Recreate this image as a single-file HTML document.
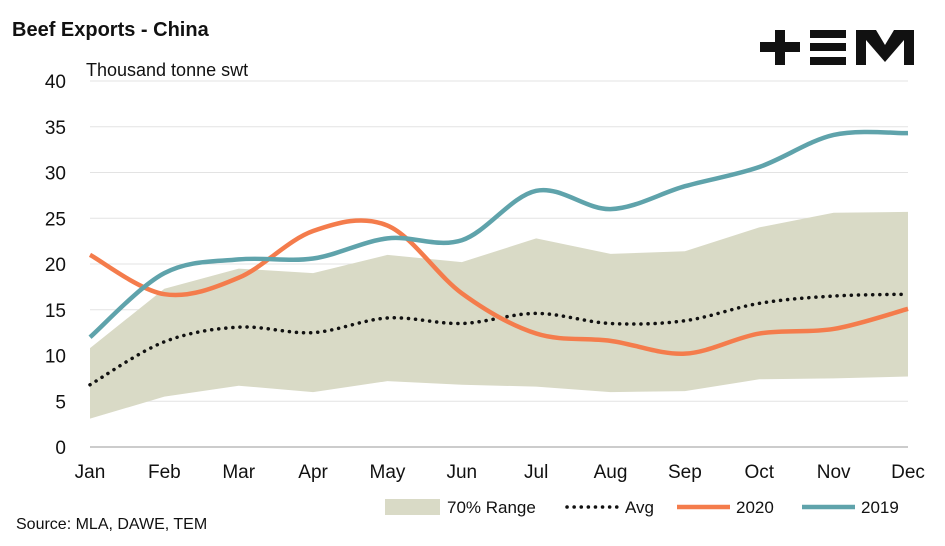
<!DOCTYPE html>
<html><head><meta charset="utf-8"><style>
body{margin:0;background:#fff;font-family:"Liberation Sans",sans-serif;}
svg text{font-family:"Liberation Sans",sans-serif;}
</style></head><body>
<svg id="c" width="945" height="541" viewBox="0 0 945 541">
<text x="12" y="36" font-size="20" font-weight="bold" fill="#111">Beef Exports - China</text>
<text x="86" y="76" font-size="18" fill="#111">Thousand tonne swt</text>
<g fill="#111">
<rect x="760" y="42" width="40" height="10"/><rect x="775" y="30" width="10" height="35"/>
<rect x="810" y="30" width="36" height="8"/><rect x="810" y="43" width="36" height="8"/><rect x="810" y="57" width="36" height="8"/>
<path d="M856 65V30H876L885 45L894 30H914V65H904V40L885 62L866 40V65Z"/>
</g>
<g id="grid"></g><g id="plot"></g><g id="axes"></g>
<text x="16" y="529" font-size="16" fill="#111">Source: MLA, DAWE, TEM</text>
<g font-size="17" fill="#111">
<g><rect x="385" y="499" width="55" height="16" fill="#d9dac6"/><text x="447" y="513">70% Range</text></g>
<g><line x1="567" y1="507" x2="618" y2="507" stroke="#111" stroke-width="3.5" stroke-dasharray="0.1 7" stroke-linecap="round"/><text x="625" y="513">Avg</text></g>
<g><line x1="677" y1="507" x2="730" y2="507" stroke="#f47c4c" stroke-width="4.5"/><text x="736" y="513">2020</text></g>
<g><line x1="802" y1="507" x2="855" y2="507" stroke="#5fa3ab" stroke-width="4.5"/><text x="861" y="513">2019</text></g>
</g>
</svg>
<script>
const months=["Jan","Feb","Mar","Apr","May","Jun","Jul","Aug","Sep","Oct","Nov","Dec"];
const yTicks=[0,5,10,15,20,25,30,35,40];
const rangeUpper=[10.8,17.3,19.5,19.0,21.0,20.2,22.8,21.1,21.4,24.0,25.6,25.7];
const rangeLower=[3.1,5.5,6.7,6.0,7.2,6.8,6.6,6.0,6.1,7.4,7.5,7.7];
const avg=[6.8,11.5,13.1,12.5,14.1,13.5,14.6,13.5,13.8,15.7,16.5,16.7];
const s2020=[21.0,16.7,18.5,23.6,24.2,16.8,12.4,11.6,10.2,12.4,12.9,15.1];
const s2019=[12.0,19.0,20.5,20.6,22.8,22.6,28.0,26.0,28.5,30.6,34.1,34.3];
const NS="http://www.w3.org/2000/svg";
const X=i=>90+i*(908-90)/11, Y=v=>447-v*(447-81)/40;
function mk(t,a,p){const e=document.createElementNS(NS,t);for(const k in a)e.setAttribute(k,a[k]);document.getElementById(p).appendChild(e);return e;}
function smooth(pts){let d="";for(let i=0;i<pts.length-1;i++){const p0=pts[Math.max(i-1,0)],p1=pts[i],p2=pts[i+1],p3=pts[Math.min(i+2,pts.length-1)];
const c1=[p1[0]+(p2[0]-p0[0])/6,p1[1]+(p2[1]-p0[1])/6],c2=[p2[0]-(p3[0]-p1[0])/6,p2[1]-(p3[1]-p1[1])/6];
d+=(i?"":"M"+p1[0]+" "+p1[1])+"C"+c1+" "+c2+" "+p2;}return d;}
yTicks.forEach(v=>{const g=mk("line",{x1:90,x2:908,y1:Y(v),y2:Y(v),stroke:v?"#e3e3e3":"#999","stroke-width":1},"grid");

const t=mk("text",{x:66,y:Y(v)+7,"font-size":19,fill:"#111","text-anchor":"end"},"axes");t.textContent=v;
});
months.forEach((m,i)=>{const t=mk("text",{x:X(i),y:478,"font-size":19,fill:"#111","text-anchor":"middle"},"axes");t.textContent=m;
});
let poly=rangeUpper.map((v,i)=>X(i)+","+Y(v)).concat(rangeLower.map((v,i)=>X(i)+","+Y(v)).reverse()).join(" ");
const a=mk("polygon",{points:poly,fill:"#d9dac6"},"plot");

const la=mk("path",{d:smooth(avg.map((v,i)=>[X(i),Y(v)])),fill:"none",stroke:"#111","stroke-width":3.5,"stroke-dasharray":"0.1 7","stroke-linecap":"round"},"plot");

const l20=mk("path",{d:smooth(s2020.map((v,i)=>[X(i),Y(v)])),fill:"none",stroke:"#f47c4c","stroke-width":4.5},"plot");

const l19=mk("path",{d:smooth(s2019.map((v,i)=>[X(i),Y(v)])),fill:"none",stroke:"#5fa3ab","stroke-width":4.5},"plot");

</script>
</body></html>
